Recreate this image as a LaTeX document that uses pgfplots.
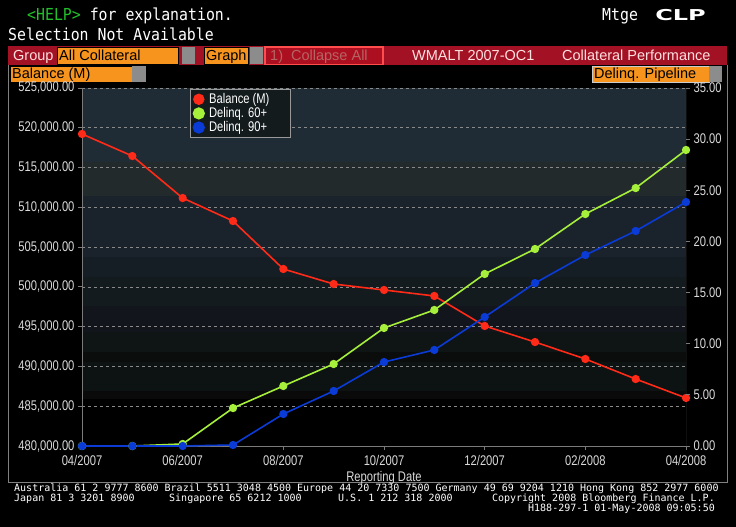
\documentclass[border=0pt]{standalone}
\usepackage{pgfplots}
\pgfplotsset{compat=1.18}
\usepackage{fontspec}
\setmainfont{Liberation Sans}
\newfontfamily\cond{Liberation Sans}[FakeStretch=0.8]
\newfontfamily\bbmono{DejaVu Sans Mono}[FakeStretch=0.9]
\newfontfamily\ftmono{DejaVu Sans Mono}
\newfontfamily\bbbold{DejaVu Sans Bold}

\definecolor{balred}{HTML}{FF2A17}
\definecolor{d60}{HTML}{A6F03C}
\definecolor{d90}{HTML}{0B3BD6}
\definecolor{barred}{HTML}{A31224}
\definecolor{bbor}{HTML}{F7941D}
\definecolor{sqgray}{HTML}{8C8C8C}
\definecolor{ticktxt}{HTML}{DADADA}
\definecolor{gridgray}{HTML}{8A8A8A}
\definecolor{axgray}{HTML}{7A7A7A}
\definecolor{helpgreen}{HTML}{22C02A}
\definecolor{legbg}{HTML}{131B1D}
\definecolor{bandA}{HTML}{1F2C35}
\definecolor{bandB}{HTML}{222A2B}
\definecolor{bandC}{HTML}{1A222C}
\definecolor{bandD}{HTML}{161E25}
\definecolor{bandE}{HTML}{141B1F}
\definecolor{bandF}{HTML}{13151D}
\definecolor{bandG}{HTML}{0F1515}
\definecolor{bandH}{HTML}{0B0C0C}
\definecolor{bandI}{HTML}{0D1313}
\definecolor{bandJ}{HTML}{0A0A0A}

\newcommand\tickfont{\cond\fontsize{14bp}{15bp}\selectfont}
\newcommand\barfont{\fontsize{14.5bp}{16bp}\selectfont}
\newcommand\foot{\ftmono\fontsize{10bp}{11bp}\selectfont}

\begin{document}
\begin{tikzpicture}
\begin{scope}[x=1bp,y=-1bp]
  \path[use as bounding box] (0,0) rectangle (736,527);
  \fill[black] (0,0) rectangle (736,527);

  % header lines
  \node[anchor=base west,inner sep=0,text=white,font=\bbmono\fontsize{16.5bp}{18bp}\selectfont]
    at (27,21) {{\color{helpgreen}<HELP>} for explanation.};
  \node[anchor=base west,inner sep=0,text=white,font=\bbmono\fontsize{16.5bp}{18bp}\selectfont]
    at (602,21) {Mtge};
  \node[anchor=base west,inner sep=0,text=white,font=\bbbold\fontsize{15bp}{17bp}\selectfont,
    xscale=1.6,transform shape] at (655,21) {CLP};
  \node[anchor=base west,inner sep=0,text=white,font=\bbmono\fontsize{16.5bp}{18bp}\selectfont]
    at (8,41) {Selection Not Available};

  % red menu bar
  \fill[barred] (8,46) rectangle (727,65);
  \node[anchor=base west,inner sep=0,text=white!88!red,font=\barfont] at (13,61) {Group};
  \filldraw[fill=bbor,draw=black] (57,47) rectangle (178,64);
  \node[anchor=base west,inner sep=0,text=black,font=\barfont] at (59,61) {All Collateral};
  \fill[sqgray] (182,47) rectangle (195,64);
  \filldraw[fill=bbor,draw=black] (204,47) rectangle (248,64);
  \node[anchor=base west,inner sep=0,text=black,font=\barfont] at (206,61) {Graph};
  \fill[sqgray] (250,47) rectangle (263,64);
  \filldraw[fill=barred!90!red,draw=red!70!white,line width=1.2bp] (265,47) rectangle (383,64.5);
  \node[anchor=base west,inner sep=0,text=red!35!gray!90!white,font=\barfont] at (270,61) {1)\ \ Collapse All};
  \node[anchor=base west,inner sep=0,text=white!88!red,font=\barfont] at (412,61) {WMALT 2007-OC1};
  \node[anchor=base west,inner sep=0,text=white!88!red,font=\barfont] at (562,61) {Collateral Performance};

  % second row
  \filldraw[fill=bbor,draw=black] (10,66.5) rectangle (132,82);
  \node[anchor=base west,inner sep=0,text=black,font=\barfont] at (12,79) {Balance (M)};
  \fill[sqgray] (132,66.5) rectangle (146,82);
  \filldraw[fill=bbor,draw=gray!40] (592,66.5) rectangle (709,82);
  \node[anchor=base west,inner sep=0,text=black,font=\barfont] at (594,79) {Delinq. Pipeline};
  \fill[sqgray] (709,66.5) rectangle (722,82);

  % frame
  \draw[gray,line width=0.8bp] (8,65) -- (8,482) -- (727,482) -- (727,65);

  % plot area background bands
  \fill[bandA] (82,88) rectangle (686,162);
  \fill[bandB] (82,162) rectangle (686,196);
  \fill[bandC] (82,196) rectangle (686,257);
  \fill[bandD] (82,257) rectangle (686,277);
  \fill[bandE] (82,277) rectangle (686,306);
  \fill[bandF] (82,306) rectangle (686,332);
  \fill[bandG] (82,332) rectangle (686,352);
  \fill[bandH] (82,352) rectangle (686,362);
  \fill[bandI] (82,362) rectangle (686,391);
  \fill[bandJ] (82,391) rectangle (686,399);

  % footer
  \node[anchor=base west,inner sep=0,text=white,font=\foot] at (14,491)
    {Australia 61 2 9777 8600 Brazil 5511 3048 4500 Europe 44 20 7330 7500 Germany 49 69 9204 1210 Hong Kong 852 2977 6000};
  \node[anchor=base west,inner sep=0,text=white,font=\foot] at (14,501) {Japan 81 3 3201 8900};
  \node[anchor=base west,inner sep=0,text=white,font=\foot] at (169,501) {Singapore 65 6212 1000};
  \node[anchor=base west,inner sep=0,text=white,font=\foot] at (338,501) {U.S. 1 212 318 2000};
  \node[anchor=base east,inner sep=0,text=white,font=\foot] at (715,501) {Copyright 2008 Bloomberg Finance L.P.};
  \node[anchor=base east,inner sep=0,text=white,font=\foot] at (715,511) {H188-297-1 01-May-2008 09:05:50};
\end{scope}

\begin{axis}[
    at={(82bp,-446bp)}, anchor=south west,
    scale only axis, width=604bp, height=358bp,
    xmin=0, xmax=12, ymin=480000, ymax=525000,
    axis line style={draw=none},
    xtick={0,2,4,6,8,10,12},
    xticklabels={04/2007,06/2007,08/2007,10/2007,12/2007,02/2008,04/2008},
    ytick={480000,485000,490000,495000,500000,505000,510000,515000,520000,525000},
    xtick pos=bottom, ytick pos=left,
    scaled y ticks=false,
    tick align=outside, major tick length=4bp,
    tick style={draw=axgray, line width=0.8bp},
    ymajorgrids,
    grid style={draw=gridgray, dash pattern=on 3bp off 3bp, line width=0.6bp},
    ticklabel style={font=\tickfont, text=ticktxt},
    xticklabel style={yshift=-2bp},
    /pgf/number format/assume math mode=true,
    yticklabel style={/pgf/number format/.cd, fixed, fixed zerofill, precision=2, 1000 sep={,}},
    xlabel={Reporting Date},
    xlabel style={font=\tickfont, text=ticktxt, yshift=1bp},
]
  \draw[axgray, line width=0.9bp] (rel axis cs:0,1) -- (rel axis cs:0,0) -- (rel axis cs:1,0) -- (rel axis cs:1,1);
  \addplot[balred, line width=1.6bp, mark=*, mark size=3.3bp, mark options={fill=balred}]
    coordinates {(0,519220) (1,516450) (2,511170) (3,508280) (4,502250) (5,500360) (6,499610)
                 (7,498860) (8,495090) (9,493070) (10,490940) (11,488420) (12,486040)};
\end{axis}

\begin{axis}[
    at={(82bp,-446bp)}, anchor=south west,
    scale only axis, width=604bp, height=358bp,
    xmin=0, xmax=12, ymin=0, ymax=35,
    axis line style={draw=none},
    xtick=\empty,
    ytick={0,5,10,15,20,25,30,35},
    ytick pos=right, yticklabel pos=right,
    tick align=outside, major tick length=4bp,
    tick style={draw=axgray, line width=0.8bp},
    ticklabel style={font=\tickfont, text=ticktxt},
    /pgf/number format/assume math mode=true,
    yticklabel style={/pgf/number format/.cd, fixed, fixed zerofill, precision=2},
    legend image code/.code={\draw[#1, mark size=5.3bp] plot coordinates {(0.12cm,0cm)};},
    legend style={at={(axis description cs:0.179,0.997)}, anchor=north west,
      fill=legbg, draw=gray!80, line width=0.8bp, text=white, font=\tickfont,
      inner xsep=3bp, inner ysep=2bp, row sep=-1.5bp,
      /tikz/every odd column/.append style={column sep=3bp}},
    legend cell align=left,
]
  \addlegendimage{balred, mark=*, mark options={fill=balred}}
  \addlegendentry{\makebox[76bp][l]{Balance (M)}}
  \addplot[d60, line width=1.6bp, mark=*, mark size=3.3bp, mark options={fill=d60}]
    coordinates {(0,0) (1,0) (2,0.2) (3,3.71) (4,5.87) (5,8.02) (6,11.54)
                 (7,13.3) (8,16.82) (9,19.26) (10,22.68) (11,25.22) (12,28.94)};
  \addlegendentry{Delinq. 60+}
  \addplot[d90, line width=1.6bp, mark=*, mark size=3.3bp, mark options={fill=d90}]
    coordinates {(0,0) (1,0) (2,0) (3,0.1) (4,3.13) (5,5.38) (6,8.21)
                 (7,9.39) (8,12.61) (9,15.93) (10,18.67) (11,21.02) (12,23.85)};
  \addlegendentry{Delinq. 90+}
\end{axis}
\end{tikzpicture}
\end{document}
